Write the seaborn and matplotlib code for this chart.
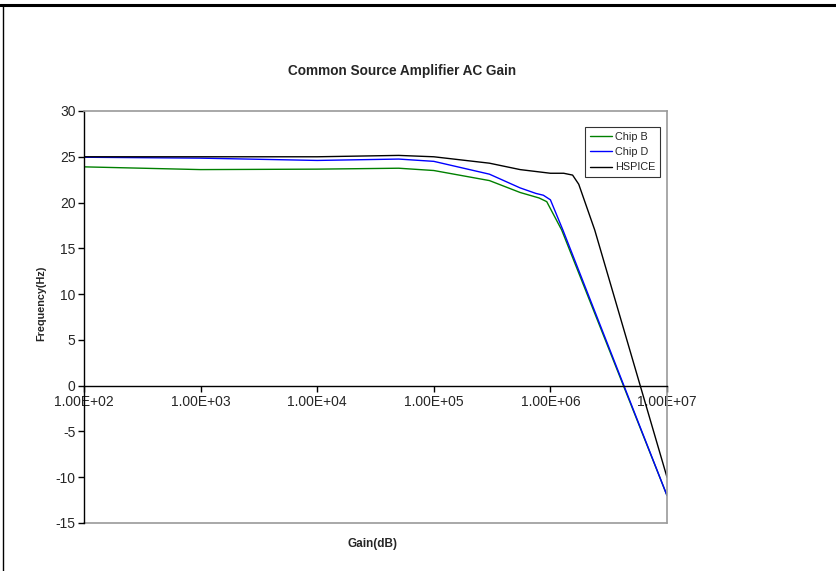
import matplotlib
matplotlib.use("Agg")
import matplotlib.pyplot as plt
from matplotlib.lines import Line2D
from matplotlib.ticker import FixedLocator, FuncFormatter, NullLocator
import numpy as np
import pandas as pd
import seaborn as sns

# Measured AC response: frequency points (Hz) and gain readings for each source
chip_b_freq = [1e2, 1e3, 1e4, 5e4, 1e5, 3e5, 5.5e5, 8e5, 9.3e5, 1.25e6, 1e7]
chip_b_gain = [23.9, 23.6, 23.65, 23.75, 23.5, 22.4, 21.1, 20.5, 20.1, 17.0, -12.0]

chip_d_freq = [1e2, 1e3, 1e4, 5e4, 1e5, 3e5, 5.5e5, 7.5e5, 8.7e5, 1e6, 1.28e6, 1e7]
chip_d_gain = [24.95, 24.85, 24.6, 24.75, 24.5, 23.1, 21.6, 21.0, 20.8, 20.3, 17.0, -12.0]

hspice_freq = [1e2, 1e3, 1e4, 5e4, 1e5, 3e5, 5.5e5, 1e6, 1.3e6, 1.55e6, 1.75e6, 2.4e6, 1e7]
hspice_gain = [25.0, 25.0, 25.0, 25.15, 25.0, 24.3, 23.6, 23.2, 23.2, 23.0, 22.0, 17.0, -10.0]

series_names = ["Chip B", "Chip D", "HSPICE"]
series_colors = ["#008000", "#0000FF", "#000000"]

x_ticks = [1e2, 1e3, 1e4, 1e5, 1e6, 1e7]
y_ticks = [-15, -10, -5, 0, 5, 10, 15, 20, 25, 30]

frames = []
for name, f, g in zip(series_names,
                      [chip_b_freq, chip_d_freq, hspice_freq],
                      [chip_b_gain, chip_d_gain, hspice_gain]):
    frames.append(pd.DataFrame({"freq": f, "gain": g, "series": name}))
data = pd.concat(frames, ignore_index=True)

sns.set_style("white")
plt.rcParams["font.family"] = ["Liberation Sans", "DejaVu Sans"]
plt.rcParams["axes.unicode_minus"] = False

fig = plt.figure(figsize=(8.36, 5.71), dpi=100)
ax = fig.add_axes([84 / 836, 1 - 523 / 571, 583 / 836, 412 / 571])

sns.lineplot(data=data, x="freq", y="gain", hue="series",
             palette=dict(zip(series_names, series_colors)),
             hue_order=series_names, sort=False, estimator=None,
             linewidth=1.0, ax=ax, legend=True)

ax.set_xscale("log")
ax.set_xlim(1e2, 1e7)
ax.set_ylim(-15, 30)

ax.xaxis.set_major_locator(FixedLocator(x_ticks))
ax.xaxis.set_minor_locator(NullLocator())
ax.xaxis.set_major_formatter(FuncFormatter(lambda v, p: f"{v:.2E}"))
ax.set_yticks(y_ticks)

# x axis runs along gain = 0; the frame around the plot area is grey
ax.spines["bottom"].set_position(("data", 0))
ax.spines["bottom"].set_color("black")
ax.spines["bottom"].set_linewidth(1.0)
ax.spines["left"].set_color("black")
ax.spines["left"].set_linewidth(1.0)
for side in ("top", "right"):
    ax.spines[side].set_color("#9a9a9a")
    ax.spines[side].set_linewidth(1.2)
ax.axhline(-15, color="#9a9a9a", linewidth=1.2, clip_on=False, zorder=0)

ax.tick_params(axis="both", which="major", direction="out", length=4,
               width=1.0, color="black", labelsize=10, pad=2,
               bottom=True, left=True)
ax.tick_params(axis="x", pad=2.5)

ax.set_title("Common Source Amplifier AC Gain", fontsize=9.8,
             fontweight="bold", pad=26, x=0.545)
ax.set_xlabel("Gain(dB)", fontsize=8.5, fontweight="bold")
ax.set_ylabel("Frequency(Hz)", fontsize=7.8, fontweight="bold")
ax.xaxis.set_label_coords(0.494, -0.037)
ax.yaxis.set_label_coords(-0.064, 0.534)

leg = ax.legend(loc="upper right", bbox_to_anchor=(0.988, 0.962),
                frameon=True, fancybox=False, edgecolor="black",
                fontsize=7.8, handlelength=2.0, handletextpad=0.3,
                borderpad=0.45, labelspacing=0.5, borderaxespad=0)
leg.get_frame().set_linewidth(0.8)
leg.set_title(None)

# outer frame lines along the top and left of the figure
fig.add_artist(Line2D([0, 1], [1 - 5 / 571, 1 - 5 / 571], color="black",
                      linewidth=2.2, transform=fig.transFigure))
fig.add_artist(Line2D([3 / 836, 3 / 836], [0, 1 - 5 / 571], color="black",
                      linewidth=1.0, transform=fig.transFigure))

fig.savefig("out.png", dpi=100)
